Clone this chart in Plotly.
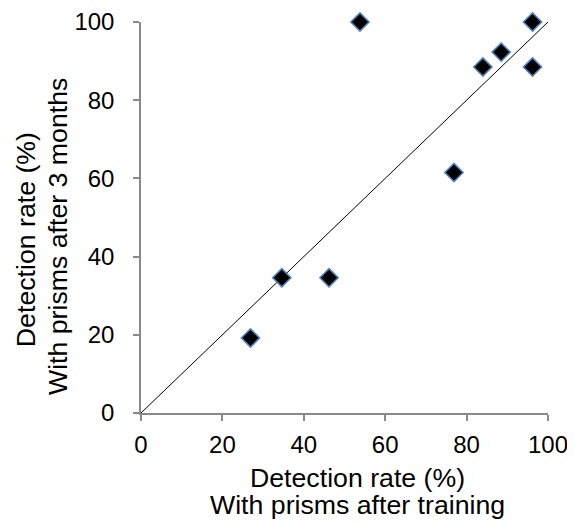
import plotly.graph_objects as go

# Detection rate (%) with prisms after training (x) vs after 3 months (y)
after_training = [26.9, 34.6, 46.2, 53.8, 76.9, 84.0, 88.5, 96.2, 96.2]
after_3_months = [19.2, 34.6, 34.6, 100.0, 61.5, 88.5, 92.3, 100.0, 88.5]

# identity line endpoints
line_x = [0, 100]
line_y = [0, 100]

tick_vals = [0, 20, 40, 60, 80, 100]
tick_text = ["0", "20", "40", "60", "80", "100"]

x_title_lines = ["Detection rate (%)", "With prisms after training"]
y_title_lines = ["Detection rate (%)", "With prisms after 3 months"]

FONT = "Liberation Sans, Arial, sans-serif"
TITLE_SIZE = 26.7

fig = go.Figure()
fig.add_trace(go.Scatter(
    x=line_x, y=line_y, mode="lines",
    line=dict(color="black", width=1),
    hoverinfo="skip", showlegend=False,
))
fig.add_trace(go.Scatter(
    x=after_training, y=after_3_months, mode="markers",
    marker=dict(symbol="diamond", size=14, color="black",
                line=dict(color="#4F81BD", width=1.6)),
    cliponaxis=False, showlegend=False,
))

axis_common = dict(
    range=[0, 100],
    tickvals=tick_vals, ticktext=tick_text,
    showgrid=False, zeroline=False,
    showline=True, linecolor="#898989", linewidth=1.5,
    ticks="outside", ticklen=6, tickwidth=1.5, tickcolor="#898989",
    tickfont=dict(family=FONT, size=24, color="black"),
    automargin=False,
)

fig.update_layout(
    width=567, height=513,
    margin=dict(l=133, r=27, t=14, b=108),
    paper_bgcolor="white", plot_bgcolor="white",
    font=dict(family=FONT, size=24, color="black"),
    xaxis=dict(**axis_common, ticklabelstandoff=3),
    yaxis=dict(**axis_common, ticklabelstandoff=14),
)

# x-axis title lines (below plot)
for text, ypos in zip(x_title_lines, [-0.1665, -0.2356]):
    fig.add_annotation(text=text, xref="paper", yref="paper",
                       x=0.531, y=ypos, xanchor="center", yanchor="middle",
                       showarrow=False,
                       font=dict(family=FONT, size=TITLE_SIZE, color="black"))

# y-axis title lines (rotated, left of plot)
for text, xpos, ypos in zip(y_title_lines, [-0.2807, -0.2045], [0.444, 0.452]):
    fig.add_annotation(text=text, xref="paper", yref="paper",
                       x=xpos, y=ypos, xanchor="center", yanchor="middle",
                       textangle=-90, showarrow=False,
                       font=dict(family=FONT, size=TITLE_SIZE, color="black"))

fig.write_html("out.html")
